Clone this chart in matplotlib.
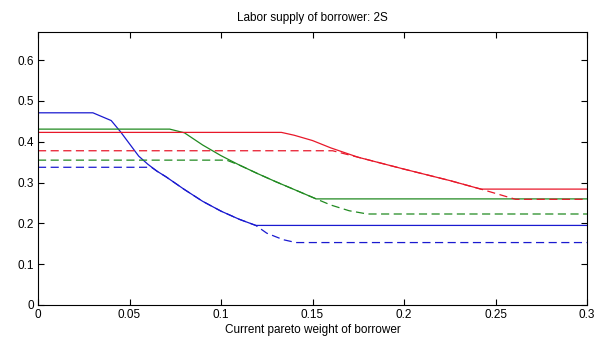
import matplotlib
matplotlib.use("Agg")
import matplotlib.pyplot as plt

plt.rcParams['font.family'] = ['Liberation Sans', 'DejaVu Sans']

# solid lines (x = pareto weight, y = labor supply)
blue_x = [0, 0.03, 0.04, 0.045, 0.05, 0.055, 0.06, 0.065, 0.07, 0.08, 0.09, 0.1, 0.11, 0.119, 0.3]
blue_y = [0.471, 0.471, 0.452, 0.425, 0.395, 0.365, 0.345, 0.328, 0.314, 0.283, 0.254, 0.23, 0.21, 0.195, 0.195]
green_x = [0, 0.072, 0.08, 0.09, 0.1, 0.11, 0.12, 0.13, 0.14, 0.152, 0.3]
green_y = [0.431, 0.431, 0.422, 0.392, 0.366, 0.343, 0.322, 0.302, 0.283, 0.26, 0.26]
red_x = [0, 0.133, 0.14, 0.15, 0.16, 0.175, 0.2, 0.225, 0.242, 0.3]
red_y = [0.423, 0.423, 0.416, 0.403, 0.385, 0.362, 0.333, 0.305, 0.284, 0.284]

# dashed lines
blue_d_x = [0, 0.062, 0.065, 0.07, 0.08, 0.09, 0.1, 0.11, 0.119, 0.125, 0.134, 0.141, 0.3]
blue_d_y = [0.3375, 0.3375, 0.328, 0.314, 0.283, 0.254, 0.23, 0.21, 0.195, 0.176, 0.16, 0.153, 0.153]
green_d_x = [0, 0.103, 0.11, 0.12, 0.13, 0.14, 0.152, 0.16, 0.17, 0.18, 0.3]
green_d_y = [0.355, 0.355, 0.343, 0.322, 0.302, 0.283, 0.26, 0.245, 0.231, 0.223, 0.223]
red_d_x = [0, 0.161, 0.175, 0.2, 0.225, 0.242, 0.261, 0.3]
red_d_y = [0.378, 0.378, 0.362, 0.333, 0.305, 0.284, 0.259, 0.259]

fig = plt.figure(figsize=(6.13, 3.48), dpi=100)
ax = fig.add_axes([0.062, 0.1236, 0.8956, 0.7844])

c_blue, c_green, c_red = '#1a1ad0', '#218a21', '#e8182a'
dash = (0, (6.5, 3.6))
ax.plot(blue_x, blue_y, color=c_blue, lw=0.9)
ax.plot(green_x, green_y, color=c_green, lw=0.9)
ax.plot(red_x, red_y, color=c_red, lw=0.9)
ax.plot(blue_d_x, blue_d_y, color=c_blue, lw=0.9, linestyle=dash)
ax.plot(green_d_x, green_d_y, color=c_green, lw=0.9, linestyle=dash)
ax.plot(red_d_x, red_d_y, color=c_red, lw=0.9, linestyle=dash)

ax.set_xlim(0, 0.3)
ax.set_ylim(0, 0.669)
ax.set_xticks([0, 0.05, 0.1, 0.15, 0.2, 0.25, 0.3])
ax.set_xticklabels(['0', '0.05', '0.1', '0.15', '0.2', '0.25', '0.3'])
ax.set_yticks([0, 0.1, 0.2, 0.3, 0.4, 0.5, 0.6])
ax.set_yticklabels(['0', '0.1', '0.2', '0.3', '0.4', '0.5', '0.6'])
ax.tick_params(direction='in', top=True, right=True, labelsize=8.5, length=4, width=0.8, pad=3)
for s in ax.spines.values():
    s.set_linewidth(0.8)

ax.set_title('Labor supply of borrower: 2S', fontsize=8.5, pad=8)
ax.set_xlabel('Current pareto weight of borrower', fontsize=8.5, labelpad=2)

fig.savefig('out.png', dpi=100)
